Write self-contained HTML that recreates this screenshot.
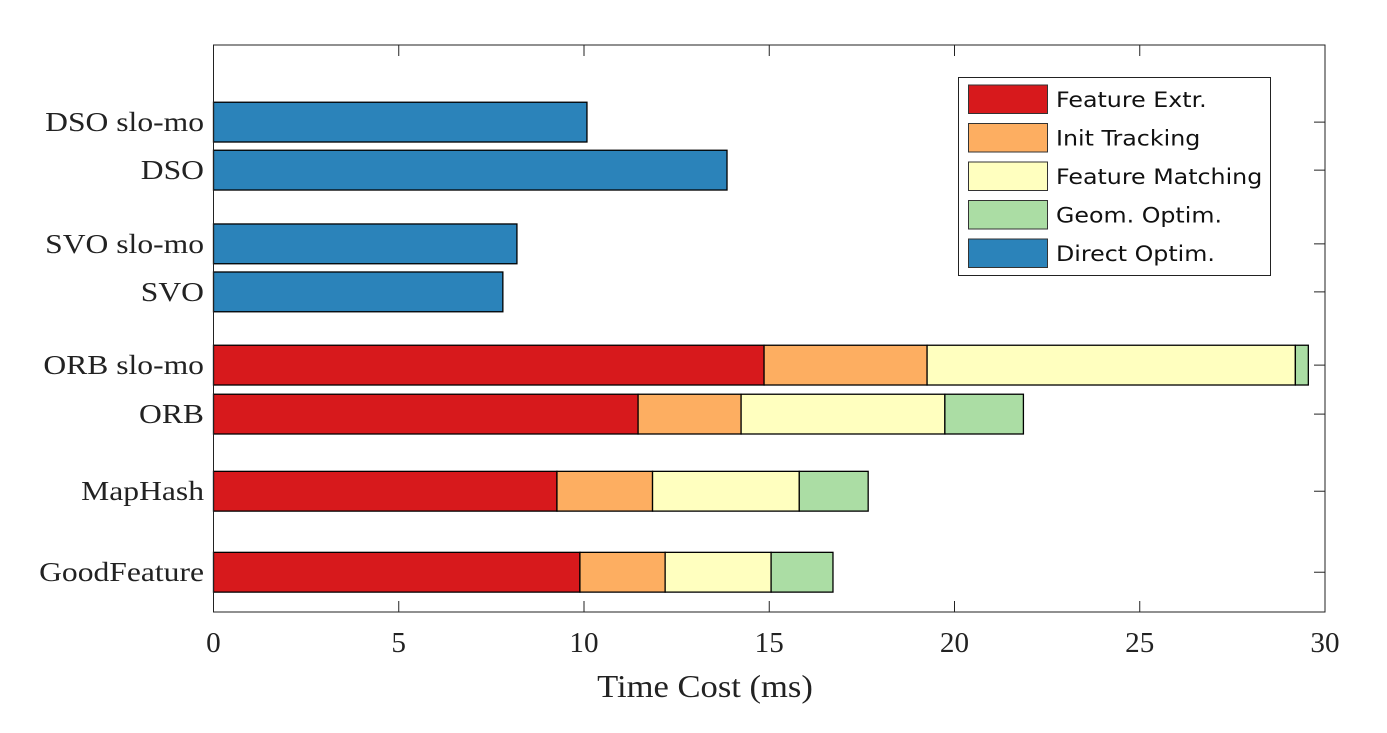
<!DOCTYPE html>
<html><head><meta charset="utf-8"><style>
html,body{margin:0;padding:0;background:#fff;}
svg{display:block;}
</style></head><body>
<svg id="chart" width="1387" height="733" xmlns="http://www.w3.org/2000/svg"></svg>
<script>
const categories = ["GoodFeature","MapHash","ORB","ORB slo-mo","SVO","SVO slo-mo","DSO","DSO slo-mo"];
const positions = [0.82,2.49,4.08,5.09,6.6,7.59,9.11,10.1];
const featureExtr = [9.89,9.27,11.46,14.86,0,0,0,0];
const initTracking = [2.30,2.58,2.78,4.40,0,0,0,0];
const featureMatching = [2.86,3.96,5.50,9.94,0,0,0,0];
const geomOptim = [1.67,1.86,2.12,0.35,0,0,0,0];
const directOptim = [0,0,0,0,7.81,8.19,13.86,10.08];
const xTicks = [0,5,10,15,20,25,30];
const seriesNames = ["Feature Extr.","Init Tracking","Feature Matching","Geom. Optim.","Direct Optim."];
const seriesColors = ["#d7191c","#fdae61","#ffffbf","#abdda4","#2b83ba"];

const NS="http://www.w3.org/2000/svg";
const svg=document.getElementById('chart');
const L=213.5,R=1325,T=45,B=612;
const xMax=30,yMax=11.69;
const xs=v=>L+(v/xMax)*(R-L);
const ys=v=>B-(v/yMax)*(B-T);
const barH=0.82;
function mk(tag,attrs){const e=document.createElementNS(NS,tag);for(const k in attrs)e.setAttribute(k,attrs[k]);svg.appendChild(e);return e;}
function stretch(t,f){const l=t.getComputedTextLength();if(l>0){t.setAttribute('textLength',(l*f).toFixed(1));t.setAttribute('lengthAdjust','spacingAndGlyphs');}}

const series=[featureExtr,initTracking,featureMatching,geomOptim,directOptim];
const sNames=["feature-extr","init-tracking","feature-matching","geom-optim","direct-optim"];
categories.forEach((c,i)=>{
  let acc=0;
  series.forEach((s,j)=>{
    const v=s[i]; if(!v) return;
    const r=mk('rect',{x:xs(acc),y:ys(positions[i]+barH/2),width:xs(acc+v)-xs(acc),height:ys(positions[i]-barH/2)-ys(positions[i]+barH/2),fill:seriesColors[j],stroke:'#000','stroke-width':1.3});
    
    
    acc+=v;
  });
  const t=mk('text',{x:204,y:ys(positions[i])+9,'text-anchor':'end','font-family':'Liberation Serif, serif','font-size':27,fill:'#222'});
  t.textContent=c;
  
  
  stretch(t,1.17);
  const tk=mk('line',{x1:R,x2:R-11,y1:ys(positions[i]),y2:ys(positions[i]),stroke:'#222','stroke-width':1});
  
  
});
const frame=mk('rect',{x:L,y:T,width:R-L,height:B-T,fill:'none',stroke:'#222','stroke-width':1});


xTicks.forEach(v=>{
  const a=mk('line',{x1:xs(v),x2:xs(v),y1:B,y2:B-11,stroke:'#222','stroke-width':1});
  
  
  const b=mk('line',{x1:xs(v),x2:xs(v),y1:T,y2:T+11,stroke:'#222','stroke-width':1});
  
  
  const t=mk('text',{x:xs(v),y:652,'text-anchor':'middle','font-family':'Liberation Serif, serif','font-size':28,fill:'#222'});
  t.textContent=v;
  
  
  stretch(t,1.04);
});
const xt=mk('text',{x:705,y:697,'text-anchor':'middle','font-family':'Liberation Serif, serif','font-size':32,fill:'#222'});
xt.textContent='Time Cost (ms)';


stretch(xt,1.08);

const lg=mk('rect',{x:958.5,y:77.5,width:312,height:198,fill:'#fff',stroke:'#222','stroke-width':1});


seriesNames.forEach((n,j)=>{
  const y0=85+j*38.5;
  const s=mk('rect',{x:968.5,y:y0,width:79,height:28.5,fill:seriesColors[j],stroke:'#333','stroke-width':1});
  
  
  const t=mk('text',{x:1056,y:y0+22,'font-family':'DejaVu Sans, sans-serif','font-size':21,fill:'#111'});
  t.textContent=n;
  
  
  stretch(t,1.13);
});
</script>
</body></html>
